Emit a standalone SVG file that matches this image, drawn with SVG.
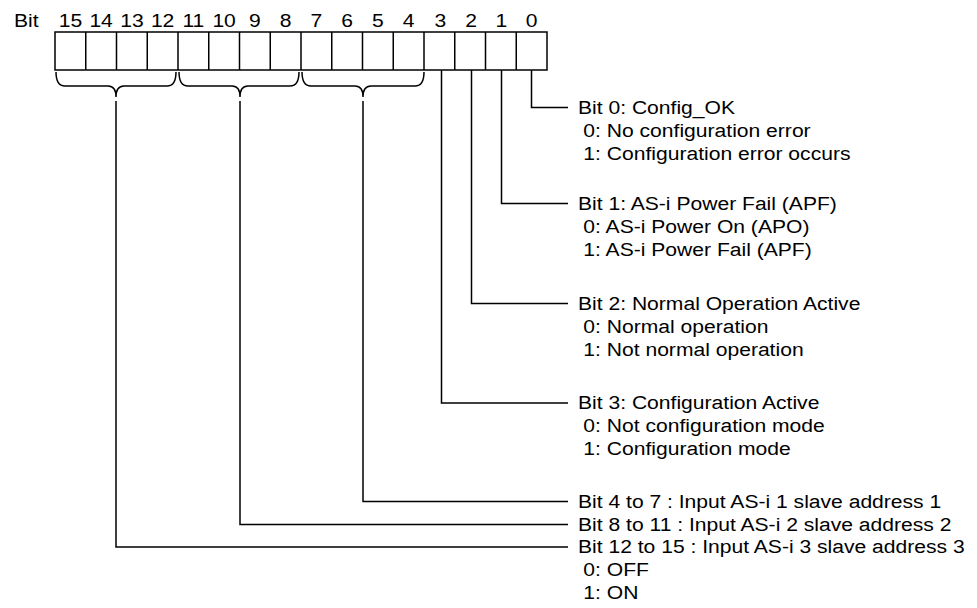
<svg xmlns="http://www.w3.org/2000/svg" width="977" height="608" viewBox="0 0 977 608">
<style>
  text { font-family: "Liberation Sans", Arial, sans-serif; font-size: 19px; fill: #000; }
  .c { text-anchor: middle; }
  .ln { fill: none; stroke: #000; stroke-width: 1.5; }
  .cell { fill: #fff; stroke: #000; stroke-width: 1.5; }
</style>
<rect width="977" height="608" fill="#fff"/>
<g id="header">
  <text transform="translate(14,27) scale(1.11,1)">Bit</text>
  <text class="c" transform="translate(70.4,27) scale(1.11,1)">15</text>
  <text class="c" transform="translate(101.1,27) scale(1.11,1)">14</text>
  <text class="c" transform="translate(131.9,27) scale(1.11,1)">13</text>
  <text class="c" transform="translate(162.6,27) scale(1.11,1)">12</text>
  <text class="c" transform="translate(193.4,27) scale(1.11,1)">11</text>
  <text class="c" transform="translate(224.1,27) scale(1.11,1)">10</text>
  <text class="c" transform="translate(254.9,27) scale(1.11,1)">9</text>
  <text class="c" transform="translate(285.6,27) scale(1.11,1)">8</text>
  <text class="c" transform="translate(316.4,27) scale(1.11,1)">7</text>
  <text class="c" transform="translate(347.1,27) scale(1.11,1)">6</text>
  <text class="c" transform="translate(377.9,27) scale(1.11,1)">5</text>
  <text class="c" transform="translate(408.6,27) scale(1.11,1)">4</text>
  <text class="c" transform="translate(440.4,27) scale(1.11,1)">3</text>
  <text class="c" transform="translate(471.1,27) scale(1.11,1)">2</text>
  <text class="c" transform="translate(501.4,27) scale(1.11,1)">1</text>
  <text class="c" transform="translate(531.6,27) scale(1.11,1)">0</text>
</g>
<g id="register">
  <rect class="cell" x="55" y="32" width="492" height="38"/>
  <path class="ln" d="M85.75 32V70M116.5 32V70M147.25 32V70M178 32V70M208.75 32V70M239.5 32V70M270.25 32V70M301 32V70M331.75 32V70M362.5 32V70M393.25 32V70M424 32V70M454.75 32V70M485.5 32V70M516.25 32V70"/>
</g>
<g id="braces">
  <path class="ln" d="M56 72 Q56 86 65 86 L108 86 Q116 86 116 97 Q116 86 124 86 L167 86 Q176 86 176 72"/>
  <path class="ln" d="M179 72 Q179 86 188 86 L232 86 Q240 86 240 97 Q240 86 248 86 L290 86 Q299 86 299 72"/>
  <path class="ln" d="M302 72 Q302 86 311 86 L355 86 Q363 86 363 97 Q363 86 371 86 L415 86 Q424 86 424 72"/>
</g>
<g id="connectors">
  <path class="ln" d="M531.5 70 V107.5 H568"/>
  <path class="ln" d="M501.5 70 V203.5 H568"/>
  <path class="ln" d="M471.5 70 V303.5 H568"/>
  <path class="ln" d="M441.5 70 V403 H568"/>
  <path class="ln" d="M363 101 V501.5 H568"/>
  <path class="ln" d="M240 101 V524.5 H568"/>
  <path class="ln" d="M116 101 V547 H568"/>
</g>
<g id="bit0" transform="translate(578,0) scale(1.11,1)">
  <text x="0" y="114">Bit 0: Config_OK</text>
  <text x="4.8" y="137">0: No configuration error</text>
  <text x="4.8" y="160">1: Configuration error occurs</text>
</g>
<g id="bit1" transform="translate(578,0) scale(1.11,1)">
  <text x="0" y="210">Bit 1: AS-i Power Fail (APF)</text>
  <text x="4.8" y="233">0: AS-i Power On (APO)</text>
  <text x="4.8" y="256">1: AS-i Power Fail (APF)</text>
</g>
<g id="bit2" transform="translate(578,0) scale(1.11,1)">
  <text x="0" y="310">Bit 2: Normal Operation Active</text>
  <text x="4.8" y="333">0: Normal operation</text>
  <text x="4.8" y="356">1: Not normal operation</text>
</g>
<g id="bit3" transform="translate(578,0) scale(1.11,1)">
  <text x="0" y="409.5">Bit 3: Configuration Active</text>
  <text x="4.8" y="432.5">0: Not configuration mode</text>
  <text x="4.8" y="455.5">1: Configuration mode</text>
</g>
<g id="bits4to7" transform="translate(578,0) scale(1.11,1)">
  <text x="0" y="508">Bit 4 to 7 : Input AS-i 1 slave address 1</text>
</g>
<g id="bits8to11" transform="translate(578,0) scale(1.11,1)">
  <text x="0" y="531">Bit 8 to 11 : Input AS-i 2 slave address 2</text>
</g>
<g id="bits12to15" transform="translate(578,0) scale(1.11,1)">
  <text x="0" y="553.5">Bit 12 to 15 : Input AS-i 3 slave address 3</text>
  <text x="4.8" y="576.5">0: OFF</text>
  <text x="4.8" y="599.5">1: ON</text>
</g>
</svg>
